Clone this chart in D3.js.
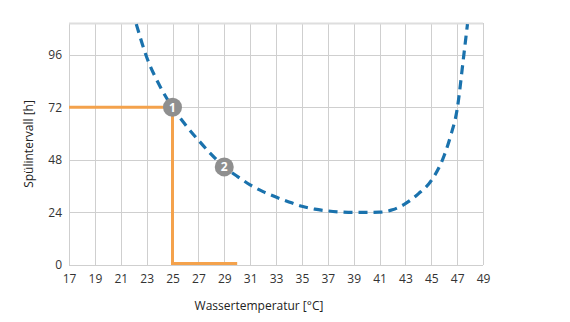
<!DOCTYPE html>
<html>
<head>
<meta charset="utf-8">
<script src="https://cdn.jsdelivr.net/npm/d3@7"></script>
<style>
  html, body { margin: 0; padding: 0; background: #fff; }
  svg { display: block; font-family: "Open Sans", "Noto Sans", sans-serif; }
</style>
</head>
<body>
<svg id="chart" width="570" height="322"></svg>
<script>
// Flushing interval vs. water temperature
const xTicks = [17, 19, 21, 23, 25, 27, 29, 31, 33, 35, 37, 39, 41, 43, 45, 47, 49];
const yTicks = [0, 24, 48, 72, 96];

// dashed curve: temperature [°C] and interval [h]
const curveTemp  = [22.2, 23, 24, 25, 26, 27, 28, 29, 30, 31, 32, 33, 34, 35, 36, 37, 38, 39, 40, 41, 42, 43, 44, 45, 46, 46.5, 47, 47.5, 47.8];
const curveHours = [110, 95, 82, 72, 64, 57, 50.5, 44.8, 40.5, 36.6, 33.5, 31, 28.8, 26.8, 25.5, 24.7, 24.2, 24, 24, 24.1, 25.2, 28, 32.5, 38.5, 50, 59, 71, 95, 110];

// orange reference path
const refTemp  = [17, 25, 25, 30];
const refHours = [72, 72, 0, 0];

// numbered markers
const markerLabels = ["1", "2"];
const markerTemp   = [25, 29];
const markerHours  = [72, 44.8];

const svg = d3.select("#chart");
const margin = { left: 69, right: 87, top: 23, bottom: 57 };
const W = 570, H = 322;

const x = d3.scaleLinear().domain([17, 49]).range([margin.left, W - margin.right]);
const y = d3.scaleLinear().domain([0, 110.5]).range([H - margin.bottom, margin.top]);

// grid
const grid = svg.append("g").attr("stroke", "#cfcfcf").attr("stroke-width", 1);
grid.selectAll("line.v").data(xTicks).join("line")
  .attr("x1", d => Math.round(x(d)) + 0.5).attr("x2", d => Math.round(x(d)) + 0.5)
  .attr("y1", y(110.5)).attr("y2", y(0));
grid.selectAll("line.h").data(yTicks.concat([110.5])).join("line")
  .attr("y1", d => Math.round(y(d)) + 0.5).attr("y2", d => Math.round(y(d)) + 0.5)
  .attr("x1", x(17)).attr("x2", x(49))
  .attr("stroke", d => d === 110.5 ? "#dedede" : null)
  .attr("stroke-width", d => d === 110.5 ? 2 : null);

// axes (labels only)
const xAxis = svg.append("g")
  .attr("transform", `translate(0,${y(0)})`)
  .call(d3.axisBottom(x).tickValues(xTicks).tickSize(0).tickPadding(9).tickFormat(d3.format("d")));
const yAxis = svg.append("g")
  .attr("transform", `translate(${x(17)},0)`)
  .call(d3.axisLeft(y).tickValues(yTicks).tickSize(0).tickPadding(7).tickFormat(d3.format("d")));
[xAxis, yAxis].forEach(a => {
  a.select(".domain").remove();
  a.selectAll("text").attr("fill", "#333").style("font-size", "12px")
    .style("font-family", "'Open Sans', 'Noto Sans', sans-serif");
});

// axis titles
svg.append("text")
  .attr("x", 259).attr("y", 310)
  .attr("text-anchor", "middle")
  .attr("fill", "#222").style("font-size", "12px")
  .text("Wassertemperatur [°C]");
svg.append("text")
  .attr("transform", `translate(33,${(y(0) + y(110.5)) / 2}) rotate(-90)`)
  .attr("text-anchor", "middle")
  .attr("fill", "#222").style("font-size", "12px")
  .text("Spülintervall [h]");

// orange path
const refData = refTemp.map((t, i) => [t, refHours[i]]);
svg.append("path")
  .datum(refData)
  .attr("fill", "none")
  .attr("stroke", "#f4a24c")
  .attr("stroke-width", 3)
  .attr("d", d3.line().x(d => x(d[0])).y(d => y(d[1]) - (d[1] === 0 ? 1.5 : 0)));

// dashed curve
const curveData = curveTemp.map((t, i) => [t, curveHours[i]]);
svg.append("path")
  .datum(curveData)
  .attr("fill", "none")
  .attr("stroke", "#1a72ad")
  .attr("stroke-width", 3.2)
  .attr("stroke-dasharray", "9,6")
  .attr("d", d3.line().curve(d3.curveMonotoneX).x(d => x(d[0])).y(d => y(d[1])));

// markers
const markers = svg.append("g").selectAll("g")
  .data(markerLabels.map((l, i) => ({ l, t: markerTemp[i], h: markerHours[i] })))
  .join("g")
  .attr("transform", d => `translate(${x(d.t)},${y(d.h)})`);
markers.append("circle").attr("r", 9.5).attr("fill", "#8f8f8f");
markers.append("text")
  .attr("text-anchor", "middle").attr("dy", "0.36em")
  .attr("fill", "#fff").style("font-size", "12px").style("font-weight", "bold")
  .text(d => d.l);
</script>
</body>
</html>
